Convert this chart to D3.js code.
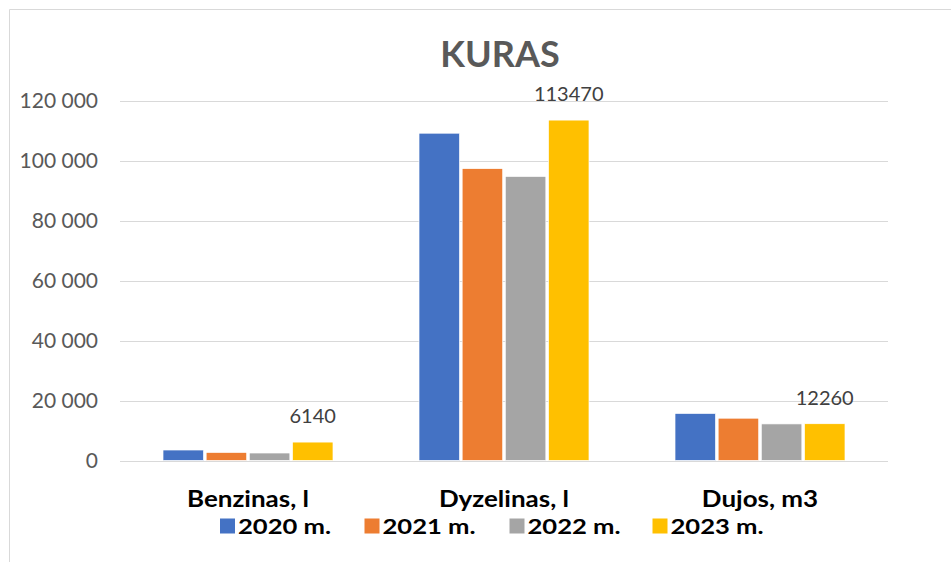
<!DOCTYPE html>
<html><head><meta charset="utf-8">
<script src="https://cdn.jsdelivr.net/npm/d3@7"></script>
<style>body{margin:0;background:#fff}svg{display:block}</style>
</head><body>
<svg id="c" width="951" height="562"></svg>
<script>
const categories = ["Benzinas, l", "Dyzelinas, l", "Dujos, m3"];
const seriesNames = ["2020 m.", "2021 m.", "2022 m.", "2023 m."];
const colors = ["#4472C4", "#ED7D31", "#A5A5A5", "#FFC000"];
const values2020 = [3500, 109100, 15700];
const values2021 = [2700, 97300, 14100];
const values2022 = [2500, 94700, 12200];
const values2023 = [6140, 113470, 12260];
const yTicks = [0, 20000, 40000, 60000, 80000, 100000, 120000];
const labelSeries = 3;

(function(){
const series = [values2020, values2021, values2022, values2023];
const svg = d3.select("#c");
const font = "Lato, 'Open Sans', sans-serif";

// chart border
svg.append("line").attr("x1",9.5).attr("x2",9.5).attr("y1",9.5).attr("y2",562).attr("stroke","#d9d9d9");
svg.append("line").attr("x1",9.5).attr("x2",951).attr("y1",9.5).attr("y2",9.5).attr("stroke","#d9d9d9");

const pL = 120, pR = 888, pT = 100.5, pB = 460.5;
const y = d3.scaleLinear().domain([0,120000]).range([pB, pT]);
const x0 = d3.scaleBand().domain(categories).range([pL, pR]);
const x1 = d3.scaleBand().domain(d3.range(4)).range([0, 170]).paddingInner(0.06);

// gridlines
svg.append("g").selectAll("line").data(yTicks).join("line")
  .attr("x1", pL).attr("x2", pR)
  .attr("y1", d => Math.round(y(d)) + 0.5).attr("y2", d => Math.round(y(d)) + 0.5)
  .attr("stroke", "#d9d9d9").attr("stroke-width", 1);

// y axis labels
const yAxis = d3.axisLeft(y).tickValues(yTicks).tickSize(0).tickPadding(0)
  .tickFormat(d => d3.format(",")(d).replace(/,/g, " "));
const ga = svg.append("g").attr("transform", `translate(98,0)`).call(yAxis);
ga.select(".domain").remove();
ga.selectAll("text").attr("font-family", font).attr("font-size", 21).attr("fill", "#595959").attr("dy", "0.35em");

// bars
const groups = svg.append("g").selectAll("g").data(categories).join("g")
  .attr("transform", c => `translate(${x0(c) + x0.bandwidth()/2 - 85},0)`);
groups.selectAll("rect").data((c, i) => series.map((s, k) => ({k, v: s[i]}))).join("rect")
  .attr("x", d => x1(d.k)).attr("width", x1.bandwidth())
  .attr("y", d => y(d.v)).attr("height", d => pB - y(d.v))
  .attr("fill", d => colors[d.k]).attr("stroke", "#fff").attr("stroke-width", 0.7);

// labels for 2023
groups.append("text")
  .attr("x", x1(labelSeries) + x1.bandwidth()/2)
  .attr("y", (c, i) => y(series[labelSeries][i]) - 19)
  .attr("text-anchor", "middle")
  .attr("font-family", font).attr("font-size", 20).attr("fill", "#404040")
  .text((c, i) => series[labelSeries][i]);

// category labels
svg.append("g").selectAll("text").data(categories).join("text")
  .attr("transform", c => `translate(${x0(c) + x0.bandwidth()/2},506.5) scale(1.13,1)`)
  .attr("text-anchor", "middle").attr("font-family", font).attr("font-weight", "bold")
  .attr("font-size", 23).attr("fill", "#000").text(c => c);

// title
svg.append("text").attr("x", 500).attr("y", 66.5).attr("text-anchor", "middle")
  .attr("font-family", font).attr("font-weight", "bold").attr("font-size", 36)
  .attr("fill", "#595959").text("KURAS");

// legend
const legX = [220, 364.5, 509.5, 652.5];
const leg = svg.append("g").selectAll("g").data(seriesNames).join("g")
  .attr("transform", (d, i) => `translate(${legX[i]},518.5)`);
leg.append("rect").attr("width", 15).attr("height", 15).attr("fill", (d, i) => colors[i]);
leg.append("text").attr("transform", "translate(18,15) scale(1.22,1)")
  .attr("font-family", font).attr("font-weight", "bold")
  .attr("font-size", 21).attr("fill", "#000").text(d => d);
})();
</script>
</body></html>
